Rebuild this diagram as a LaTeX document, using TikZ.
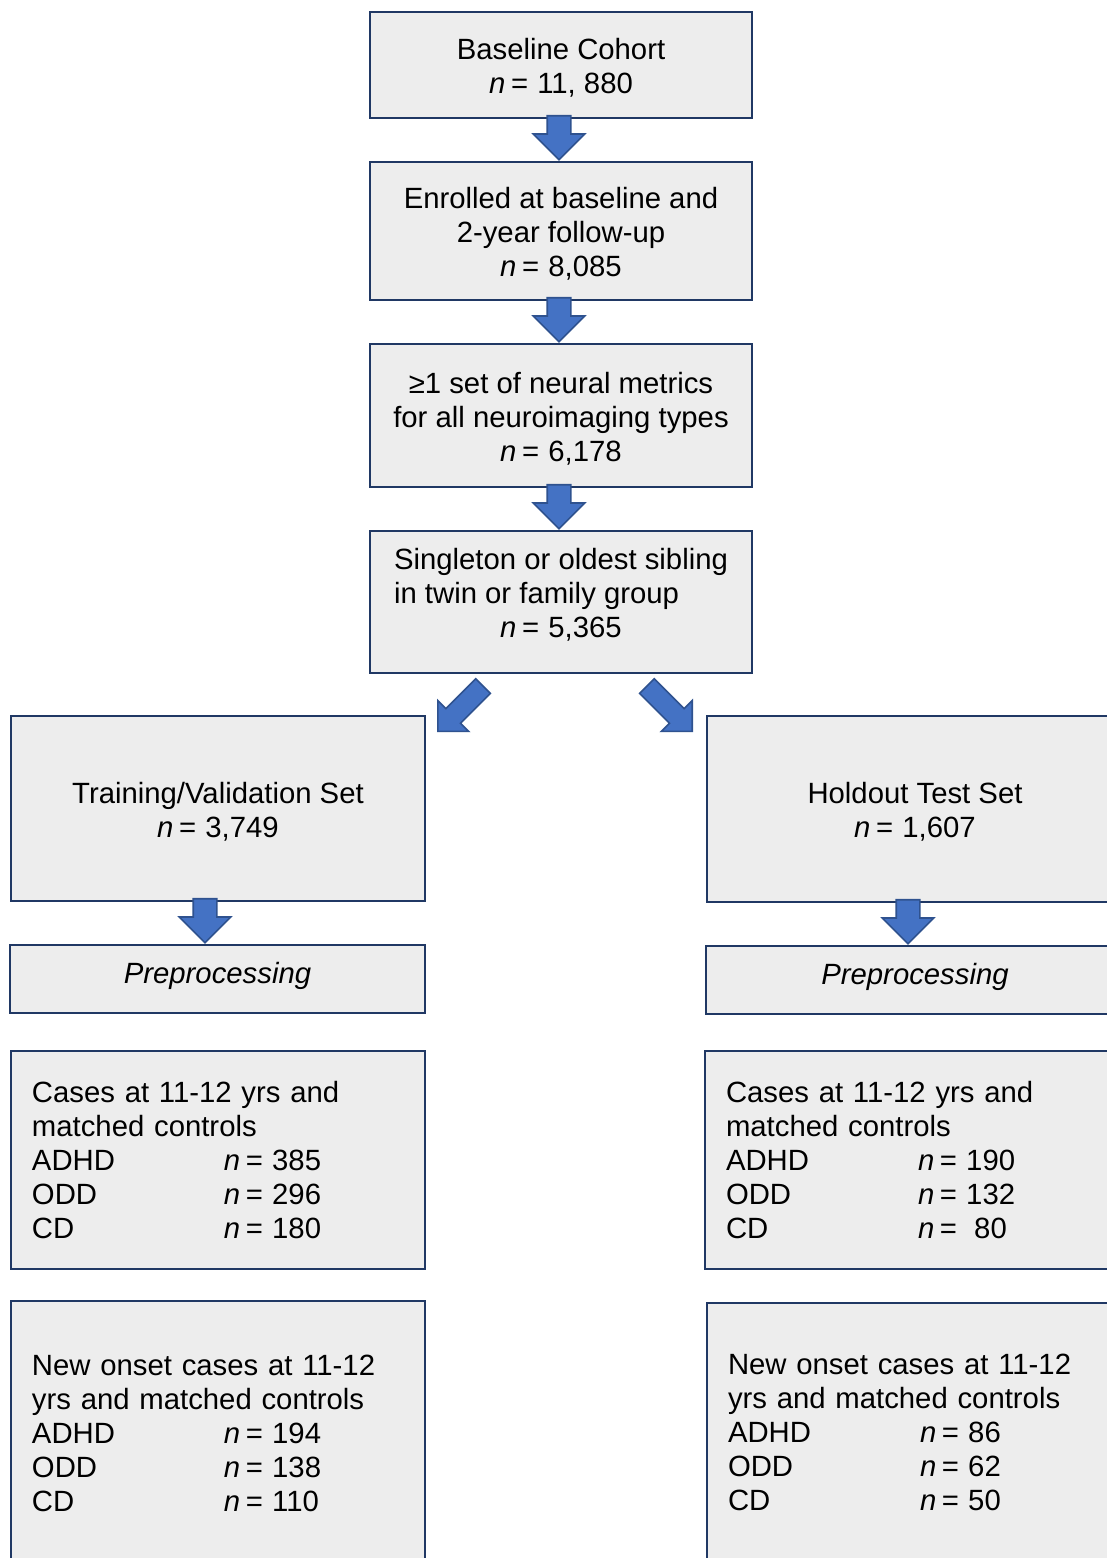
\documentclass[tikz,border=0pt]{standalone}
\usepackage{fontspec}
\setmainfont{Liberation Sans}
\usepackage{xcolor}
\usetikzlibrary{calc,positioning,shapes.arrows}
\definecolor{boxfill}{RGB}{237,237,237}
\definecolor{boxline}{RGB}{32,56,100}
\definecolor{arrowfill}{RGB}{68,114,196}
\definecolor{arrowline}{RGB}{47,82,143}
\newcommand{\nn}{\textit{n}\kern2.8pt=\kern4.6pt}
\newcommand{\grouprow}[2]{\makebox[96pt][l]{#1}\nn #2}
\newcommand{\topgap}{\rule{0pt}{13.5pt}}
\tikzset{
  stage/.style={draw=boxline,fill=boxfill,line width=1.1pt,align=center,
    inner sep=0pt,font=\fontsize{14.65}{17}\selectfont},
  prepbox/.style={stage,font=\fontsize{14.65}{17}\selectfont\itshape,
    text height=12pt,text depth=7.5pt},
  listbox/.style={stage,align=left,inner xsep=10.5pt,text width=#1},
  blockarrow/.style={single arrow,draw=arrowline,fill=arrowfill,line width=0.8pt,
    inner xsep=0pt,inner ysep=5.5pt,minimum height=22pt,
    single arrow head extend=7pt,anchor=tip},
  diagarrow/.style={blockarrow,inner ysep=4.75pt,minimum height=32pt,
    single arrow head extend=5.75pt}
}
\begin{document}
\begin{tikzpicture}[x=0.5pt,y=-0.5pt]
  \clip (0,0) rectangle (1107,1558);
  \fill[white] (0,0) rectangle (1107,1558);
  % main column
  \node[stage,minimum width=191pt,minimum height=53pt] (s1) at (561,65)
    {\topgap Baseline Cohort\\\nn 11, 880};
  \node[stage,minimum width=191pt,minimum height=69pt] (s2) at (561,231)
    {\topgap Enrolled at baseline and\\2-year follow-up\\\nn 8,085};
  \node[stage,minimum width=191pt,minimum height=71.5pt] (s3) at (561,415.5)
    {\topgap ≥1 set of neural metrics\\for all neuroimaging types\\\nn 6,178};
  \node[stage,minimum width=191pt,minimum height=71pt] (s4) at (561,602)
    {\begin{tabular}{@{}l@{}}Singleton or oldest sibling\\in twin or family group\\
     \multicolumn{1}{@{}c@{}}{\nn 5,365}\\[5pt]\end{tabular}};
  % training column
  \node[stage,minimum width=207pt,minimum height=92.5pt] (t1) at (218,808.5)
    {\topgap Training/Validation Set\\\nn 3,749};
  \node[prepbox,minimum width=207.5pt,minimum height=34pt] (t2) at (217.5,979)
    {Preprocessing};
  \node[listbox=186pt,minimum height=109pt] (t3) at (218,1160)
    {Cases at 11-12 yrs and\\matched controls\\\grouprow{ADHD}{385}\\
     \grouprow{ODD}{296}\\\grouprow{CD}{180}};
  \node[listbox=186pt,minimum height=132pt] (t4) at (218,1433)
    {New onset cases at 11-12\\yrs and matched controls\\\grouprow{ADHD}{194}\\
     \grouprow{ODD}{138}\\\grouprow{CD}{110}};
  % holdout column
  \node[stage,minimum width=208pt,minimum height=93pt] (h1) at (915,809)
    {\topgap Holdout Test Set\\\nn 1,607};
  \node[prepbox,minimum width=209pt,minimum height=34pt] (h2) at (915,980)
    {Preprocessing};
  \node[listbox=188pt,minimum height=109pt] (h3) at (914,1160)
    {Cases at 11-12 yrs and\\matched controls\\\grouprow{ADHD}{190}\\
     \grouprow{ODD}{132}\\\grouprow{CD}{\hspace{4pt}80}};
  \node[listbox=187pt,minimum height=129pt] (h4) at (915,1432)
    {New onset cases at 11-12\\yrs and matched controls\\\grouprow{ADHD}{86}\\
     \grouprow{ODD}{62}\\\grouprow{CD}{50}};
  % block arrows, placed by their tips
  \node[blockarrow,rotate=-90] (a1) at ($(s2.north)+(-2,0)$) {};
  \node[blockarrow,rotate=-90] (a2) at ($(s3.north)+(-2,0)$) {};
  \node[blockarrow,rotate=-90] (a3) at ($(s4.north)+(-2,0)$) {};
  \node[diagarrow,rotate=225] (a4) at ($(s4.south)+(-124,58)$) {};
  \node[diagarrow,rotate=-45] (a5) at ($(s4.south)+(132,58)$) {};
  \node[blockarrow,rotate=-90] (a6) at ($(t2.north)+(-12.5,0)$) {};
  \node[blockarrow,rotate=-90] (a7) at ($(h2.north)+(-7,0)$) {};
\end{tikzpicture}
\end{document}
